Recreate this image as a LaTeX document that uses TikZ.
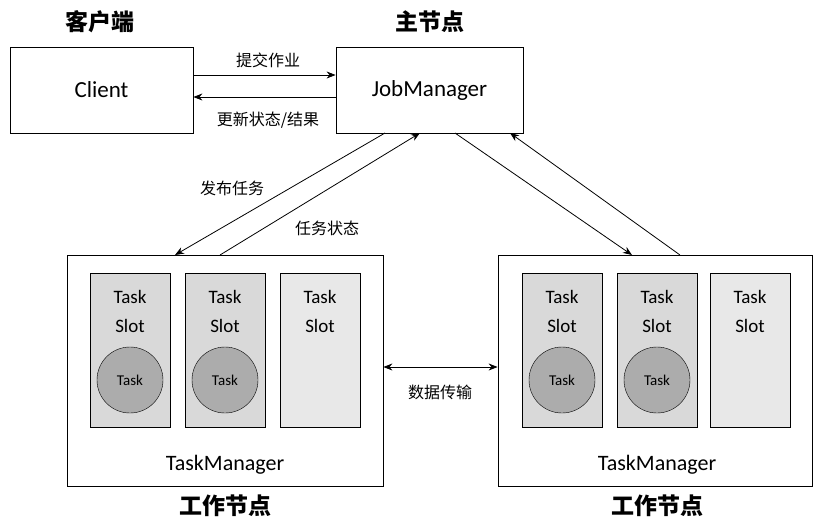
\documentclass[tikz,border=0pt]{standalone}
\usepackage{fontspec}
\setmainfont{Carlito}
\newfontfamily\cjk{Noto Sans CJK SC}
\usetikzlibrary{positioning, arrows.meta}
\tikzset{
  box/.style={draw, thick, fill=white, inner sep=0pt},
  slot/.style={draw, fill=gray!30, minimum width=80pt, minimum height=154pt, inner sep=0pt},
  slotb/.style={slot, fill=gray!18},
  task/.style={circle, draw, fill=gray!65, minimum size=66pt, inner sep=0pt, font=\fontsize{15}{15}\selectfont},
  lbl/.style={font=\cjk\fontsize{16}{16}\selectfont, inner sep=1pt},
  head/.style={font=\cjk\fontsize{23}{23}\selectfont\bfseries},
  flow/.style={-{Stealth[length=9pt, width=7pt]}, thick}
}
\begin{document}
\begin{tikzpicture}[x=1pt, y=-1pt]
  \useasboundingbox (0,0) rectangle (825,528);
  \node[box, minimum width=183pt, minimum height=86pt, font=\fontsize{23}{23}\selectfont] (client) at (101.5,90) {Client};
  \node[box, minimum width=187pt, minimum height=86pt, font=\fontsize{23}{23}\selectfont] (jm) at (429.5,90) {JobManager};
  \node[head] (hc) at (100,22) {客户端};
  \node[head] (hj) at (430,22) {主节点};

  \node[box, minimum width=316pt, minimum height=231pt] (tm1) at (225,370.5) {};
  \node[box, minimum width=314pt, minimum height=231pt] (tm2) at (655,370.5) {};

  % slots left
  \foreach \x/\n in {130/a, 225/b}{
    \node[slot] (s\n) at (\x,350) {};
    \node[align=center, font=\fontsize{19}{29}\selectfont] at (\x,311) {Task\\Slot};
    \node[task] (t\n) at (\x,380) {Task};
  }
  \node[slotb] (sc) at (320,350) {};
  \node[align=center, font=\fontsize{19}{29}\selectfont] at (320,311) {Task\\Slot};
  % slots right
  \foreach \x/\n in {562/d, 657/e}{
    \node[slot] (s\n) at (\x,350) {};
    \node[align=center, font=\fontsize{19}{29}\selectfont] at (\x,311) {Task\\Slot};
    \node[task] (t\n) at (\x,380) {Task};
  }
  \node[slotb] (sf) at (750,350) {};
  \node[align=center, font=\fontsize{19}{29}\selectfont] at (750,311) {Task\\Slot};

  \node[font=\fontsize{22}{22}\selectfont] (n1) at (225,465) {TaskManager};
  \node[font=\fontsize{22}{22}\selectfont] (n2) at (657,465) {TaskManager};
  \node[head] (w1) at (225,506) {工作节点};
  \node[head] (w2) at (657,506) {工作节点};

  % client <-> jobmanager
  \draw[flow] (client.east |- 0,75) -- (jm.west |- 0,75);
  \draw[flow] (jm.west |- 0,97) -- (client.east |- 0,97);
  \node[lbl] (l1) at (268,60) {提交作业};
  \node[lbl] (l2) at (268,120) {更新状态/结果};

  % jobmanager <-> taskmanagers
  \coordinate (a1) at (385,133); \coordinate (a2) at (175,255);
  \coordinate (b1) at (220,255); \coordinate (b2) at (420,133);
  \coordinate (c1) at (455,133); \coordinate (c2) at (632,255);
  \coordinate (d1) at (680,255); \coordinate (d2) at (510,133);
  \draw[flow] (a1) -- (a2);
  \draw[flow] (b1) -- (b2);
  \draw[flow] (c1) -- (c2);
  \draw[flow] (d1) -- (d2);
  \node[lbl] (l3) at (232,188) {发布任务};
  \node[lbl] (l4) at (327,228) {任务状态};

  % data transfer
  \draw[flow, {Stealth[length=9pt, width=7pt]}-{Stealth[length=9pt, width=7pt]}] (tm1.east |- 0,367) -- (tm2.west |- 0,367);
  \node[lbl] (l5) at (440,392) {数据传输};
\end{tikzpicture}
\end{document}
